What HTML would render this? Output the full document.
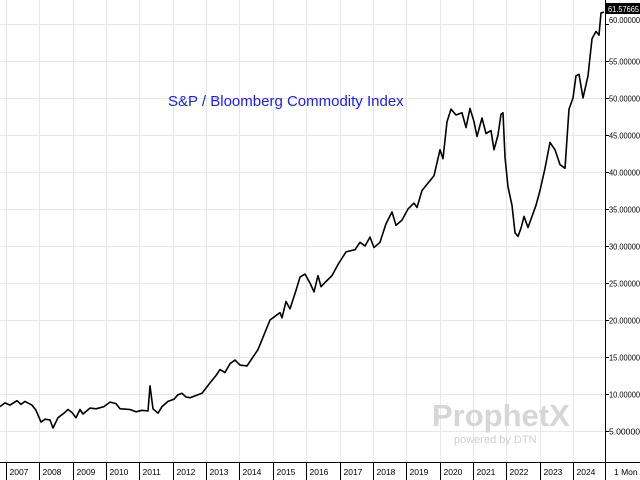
<!DOCTYPE html>
<html><head><meta charset="utf-8"><style>
html,body{margin:0;padding:0;background:#fff}
svg{display:block}
text{font-family:"Liberation Sans",sans-serif}
</style></head><body>
<svg id="s" width="640" height="480" xmlns="http://www.w3.org/2000/svg">
<rect width="640" height="480" fill="#fff"/>
<g id="grid" stroke="#e8e8e8" stroke-width="1"></g>
<text x="168" y="106" font-size="15" fill="#1a1aff">S&amp;P / Bloomberg Commodity Index</text>
<text x="432" y="426" font-size="31" font-weight="bold" fill="#d6d6d6">ProphetX</text>
<text x="454" y="443" font-size="11" fill="#cfcfcf">powered by DTN</text>
<path id="line" fill="none" stroke="#000" stroke-width="1.6" stroke-linejoin="round"/>
<line x1="605.5" y1="0" x2="605.5" y2="480" stroke="#000"/>
<line x1="0" y1="462.5" x2="640" y2="462.5" stroke="#000"/>
<g id="lab" font-size="8.5" fill="#000"></g>
<rect x="606" y="3" width="34" height="11" fill="#000"/>
<text x="608" y="12" font-size="8.5" fill="#fff" textLength="31" lengthAdjust="spacingAndGlyphs">61.57665</text>
</svg>
<script>
var ns="http://www.w3.org/2000/svg";
function Y(v){return 468-7.4*v;}
var g=document.getElementById('grid'),lab=document.getElementById('lab');
function el(p,t,a,txt){var e=document.createElementNS(ns,t);for(var k in a)e.setAttribute(k,a[k]);if(txt)e.textContent=txt;p.appendChild(e);return e;}
for(var v=5;v<=60;v+=5){var y=Math.round(Y(v))+0.5;el(g,'line',{x1:0,x2:605,y1:y,y2:y});
 var ly=v==60?23:y+3;el(lab,'text',{x:609,y:ly,textLength:31,lengthAdjust:'spacingAndGlyphs'},v.toFixed(5));el(lab,'line',{x1:605,x2:609,y1:y,y2:y,stroke:'#000'});}
for(var i=0;i<18;i++){var x=Math.round(6+i*33.35)+0.5;el(g,'line',{x1:x,x2:x,y1:0,y2:462});
 el(lab,'line',{x1:x,x2:x,y1:462,y2:480,stroke:'#000'});el(lab,'text',{x:x+3,y:475},String(2007+i));}
el(lab,'text',{x:614,y:475},'1 Mon');
var pts=[[0,8.3],[5,8.8],[10,8.5],[17,9.1],[21,8.6],[25,9],[32,8.5],[36,7.8],[41,6.2],[45,6.6],[50,6.5],[53,5.4],[58,6.8],[64,7.4],[68,7.9],[72,7.5],[76,6.8],[80,7.9],[83,7.3],[90,8.1],[96,8],[104,8.3],[110,8.9],[116,8.7],[120,8],[130,7.9],[136,7.6],[142,7.8],[148,7.7],[150,11.1],[153,8],[158,7.4],[162,8.3],[168,9],[174,9.3],[178,9.9],[182,10.1],[186,9.6],[190,9.5],[196,9.8],[202,10.1],[210,11.5],[216,12.5],[220,13.3],[225,12.9],[230,14.1],[235,14.6],[240,13.9],[247,13.8],[252,14.8],[258,16],[264,18],[270,20],[275,20.5],[280,21],[282,20.3],[286,22.5],[290,21.5],[296,24],[300,25.8],[305,26.2],[310,25],[314,23.8],[318,26],[321,24.5],[326,25.2],[332,26],[338,27.5],[346,29.2],[355,29.5],[360,30.5],[365,30],[370,31.2],[374,29.8],[380,30.5],[386,33],[392,34.6],[396,32.8],[402,33.5],[408,35],[414,35.8],[417,35.2],[422,37.5],[428,38.5],[434,39.5],[440,43],[443,41.8],[447,46.8],[451,48.5],[456,47.7],[462,48],[466,46],[470,48.6],[474,46.8],[477,44.8],[482,47.3],[486,45.2],[491,45.6],[494,43],[498,45],[501,47.8],[503,48],[505,42],[508,38],[512,35.5],[515,31.8],[518,31.3],[521,32.4],[524,34],[528,32.5],[532,34],[536,35.5],[540,37.5],[545,40.5],[550,44],[555,43],[560,41],[565,40.5],[569,48.5],[573,50],[576,53],[579,53.2],[583,50],[588,53],[592,58],[596,59],[599,58.5],[601,61.5],[604,61.6]];
document.getElementById('line').setAttribute('d','M'+pts.map(function(p){return p[0]+','+Y(p[1]).toFixed(1)}).join(' L'));
</script>
</body></html>
